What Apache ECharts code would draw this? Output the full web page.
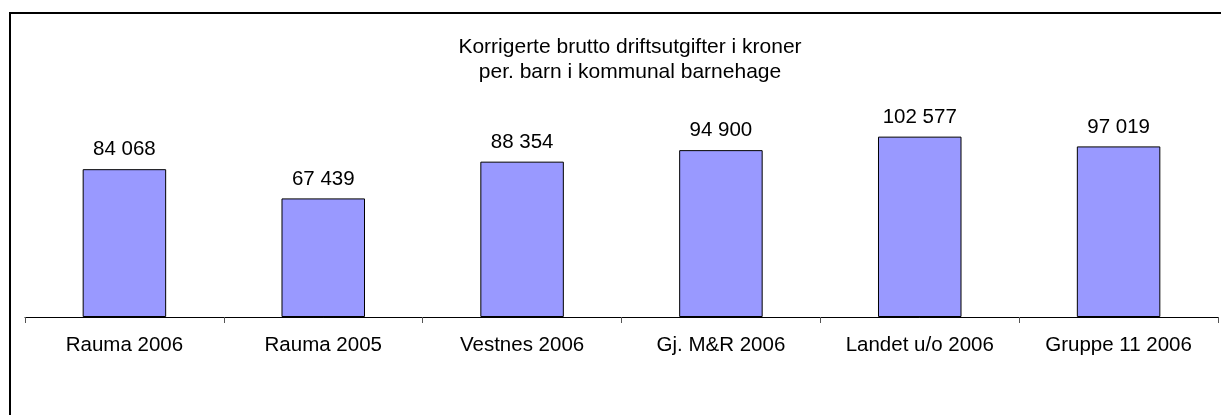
<!DOCTYPE html>
<html><head><meta charset="utf-8">
<script src="https://cdn.jsdelivr.net/npm/echarts@6/dist/echarts.min.js"></script>
<style>html,body{margin:0;padding:0;background:#fff}#c{width:1221px;height:415px}</style>
</head><body><div id="c"></div>
<script>
const categories = ['Rauma 2006','Rauma 2005','Vestnes 2006','Gj. M&R 2006','Landet u/o 2006','Gruppe 11 2006'];
const values = [84068, 67439, 88354, 94900, 102577, 97019];
const titleLines = ['Korrigerte brutto driftsutgifter i kroner', 'per. barn i kommunal barnehage'];

const FF = 'Liberation Sans, Arial, sans-serif';
const fmt = v => String(v).replace(/\B(?=(\d{3})+(?!\d))/g, ' ');
const chart = echarts.init(document.getElementById('c'));
chart.setOption({
  animation: false,
  textStyle: {fontFamily: FF},
  graphic: [{type: 'rect', shape: {x: 10, y: 13, width: 1230, height: 430},
    style: {fill: 'none', stroke: '#000', lineWidth: 2}}],
  title: {text: titleLines.join('\n'), left: 625, textAlign: 'center', top: 30,
    textStyle: {fontSize: 21, fontWeight: 'normal', color: '#000', lineHeight: 25, fontFamily: FF}},
  grid: {left: 25, right: 3, top: 106, bottom: 98, containLabel: false},
  xAxis: {type: 'category', data: categories,
    axisLine: {lineStyle: {color: '#000', width: 1}},
    axisTick: {show: true, length: 6, lineStyle: {color: '#555'}},
    axisLabel: {color: '#000', fontSize: 20.5, margin: 18, interval: 0, fontFamily: FF}},
  yAxis: {type: 'value', min: 0, max: 120000, show: false, splitLine: {show: false}},
  series: [{type: 'bar', data: values, barWidth: '42%',
    itemStyle: {color: '#9999FF', borderColor: '#000', borderWidth: 1},
    label: {show: true, position: 'top', distance: 9, color: '#000', fontSize: 20.5,
      fontFamily: FF, formatter: p => fmt(p.value)}}]
});
</script></body></html>
